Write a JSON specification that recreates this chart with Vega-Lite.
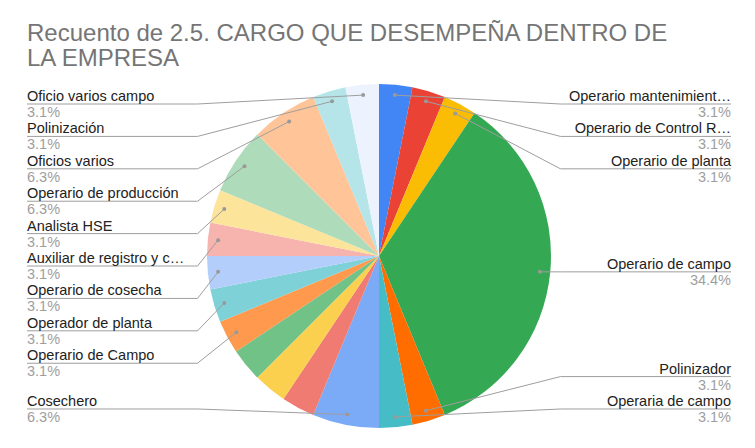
{
  "$schema": "https://vega.github.io/schema/vega-lite/v6.json",
  "width": 704,
  "height": 384,
  "autosize": {"type": "none"},
  "padding": {"left": 27, "top": 64, "right": 24, "bottom": 0},
  "background": "white",
  "config": {"view": {"stroke": null}, "font": "Liberation Sans"},
  "title": {
    "text": ["Recuento de 2.5. CARGO QUE DESEMPEÑA DENTRO DE", "LA EMPRESA"],
    "anchor": "start",
    "frame": "group",
    "fontSize": 24,
    "fontWeight": "normal",
    "color": "#757575",
    "lineHeight": 25,
    "baseline": "bottom",
    "offset": -31
  },
  "data": {
    "values": [
      {"orden": 1, "cargo": "Operario mantenimient…", "n": 1},
      {"orden": 2, "cargo": "Operario de Control R…", "n": 1},
      {"orden": 3, "cargo": "Operario de planta", "n": 1},
      {"orden": 4, "cargo": "Operario de campo", "n": 11},
      {"orden": 5, "cargo": "Polinizador", "n": 1},
      {"orden": 6, "cargo": "Operaria de campo", "n": 1},
      {"orden": 7, "cargo": "Cosechero", "n": 2},
      {"orden": 8, "cargo": "Otro cargo 1", "n": 1},
      {"orden": 9, "cargo": "Otro cargo 2", "n": 1},
      {"orden": 10, "cargo": "Otro cargo 3", "n": 1},
      {"orden": 11, "cargo": "Operario de Campo", "n": 1},
      {"orden": 12, "cargo": "Operador de planta", "n": 1},
      {"orden": 13, "cargo": "Operario de cosecha", "n": 1},
      {"orden": 14, "cargo": "Auxiliar de registro y c…", "n": 1},
      {"orden": 15, "cargo": "Analista HSE", "n": 1},
      {"orden": 16, "cargo": "Operario de producción", "n": 2},
      {"orden": 17, "cargo": "Oficios varios", "n": 2},
      {"orden": 18, "cargo": "Polinización", "n": 1},
      {"orden": 19, "cargo": "Oficio varios campo", "n": 1}
    ]
  },
  "transform": [
    {"joinaggregate": [{"op": "sum", "field": "n", "as": "total"}]},
    {"window": [{"op": "sum", "field": "n", "as": "acum"}], "sort": [{"field": "orden"}], "frame": [null, 0]},
    {"calculate": "2*PI*(datum.acum - datum.n/2)/datum.total", "as": "ang"},
    {"calculate": "datum.n/datum.total", "as": "pct"},
    {"calculate": "sin(datum.ang) < 0 ? -1 : 1", "as": "lado"},
    {"calculate": "0.94*sin(datum.ang)", "as": "px"},
    {"calculate": "0.94*cos(datum.ang)", "as": "py"}
  ],
  "layer": [
    {
      "mark": {"type": "arc", "outerRadius": 172, "stroke": null},
      "encoding": {
        "theta": {"field": "n", "type": "quantitative", "stack": true},
        "order": {"field": "orden", "type": "quantitative", "sort": "ascending"},
        "color": {
          "field": "cargo",
          "type": "nominal",
          "legend": null,
          "scale": {
            "domain": ["Operario mantenimient…", "Operario de Control R…", "Operario de planta", "Operario de campo", "Polinizador", "Operaria de campo", "Cosechero", "Otro cargo 1", "Otro cargo 2", "Otro cargo 3", "Operario de Campo", "Operador de planta", "Operario de cosecha", "Auxiliar de registro y c…", "Analista HSE", "Operario de producción", "Oficios varios", "Polinización", "Oficio varios campo"],
            "range": ["#4285F4", "#EA4335", "#FBBC04", "#34A853", "#FF6D01", "#46BDC6", "#7BAAF7", "#F07B72", "#FCD04F", "#71C287", "#FF994D", "#7ED1D7", "#B3CEFB", "#F7B4AE", "#FDE49B", "#AEDCBA", "#FFC599", "#B5E5E8", "#ECF3FE"]
          }
        }
      }
    },
    {
      "transform": [
        {"filter": "indexof(['Otro cargo 1','Otro cargo 2','Otro cargo 3'], datum.cargo) < 0"},
        {"calculate": "datum.lado * datum.orden", "as": "clave"},
        {"window": [{"op": "row_number", "as": "rk"}], "groupby": ["lado"], "sort": [{"field": "clave"}]},
        {"joinaggregate": [{"op": "count", "as": "cnt"}], "groupby": ["lado"]},
        {"calculate": "max(min(datum.py, 0.8837 - (datum.rk-1)*0.1884), -0.8895 + (datum.cnt - datum.rk)*0.1884)", "as": "ly"},
        {"calculate": "datum.lado*2.0465", "as": "xext"},
        {"calculate": "datum.lado*1.055", "as": "xint"}
      ],
      "layer": [
        {
          "mark": {"type": "rule", "color": "#9e9e9e", "strokeWidth": 1},
          "encoding": {
            "x": {"field": "xext", "type": "quantitative", "scale": {"domain": [-2.0465, 2.0465], "nice": false, "zero": false}, "axis": null},
            "x2": {"field": "xint"},
            "y": {"field": "ly", "type": "quantitative", "scale": {"domain": [-1.1163, 1.1163], "nice": false, "zero": false}, "axis": null}
          }
        },
        {
          "mark": {"type": "rule", "color": "#9e9e9e", "strokeWidth": 1},
          "encoding": {
            "x": {"field": "xint", "type": "quantitative", "axis": null},
            "x2": {"field": "px"},
            "y": {"field": "ly", "type": "quantitative", "axis": null},
            "y2": {"field": "py"}
          }
        },
        {
          "mark": {"type": "point", "filled": true, "color": "#999999", "size": 16, "opacity": 1},
          "encoding": {
            "x": {"field": "px", "type": "quantitative", "axis": null},
            "y": {"field": "py", "type": "quantitative", "axis": null}
          }
        },
        {
          "transform": [{"filter": "datum.lado < 0"}],
          "mark": {"type": "text", "align": "left", "baseline": "alphabetic", "dy": -3, "fontSize": 14.5, "color": "#222222"},
          "encoding": {
            "x": {"field": "xext", "type": "quantitative", "axis": null},
            "y": {"field": "ly", "type": "quantitative", "axis": null},
            "text": {"field": "cargo"}
          }
        },
        {
          "transform": [{"filter": "datum.lado < 0"}],
          "mark": {"type": "text", "align": "left", "baseline": "top", "dy": 2, "fontSize": 14.5, "color": "#9e9e9e"},
          "encoding": {
            "x": {"field": "xext", "type": "quantitative", "axis": null},
            "y": {"field": "ly", "type": "quantitative", "axis": null},
            "text": {"field": "pct", "type": "quantitative", "format": ".1%"}
          }
        },
        {
          "transform": [{"filter": "datum.lado > 0"}],
          "mark": {"type": "text", "align": "right", "baseline": "alphabetic", "dy": -3, "fontSize": 14.5, "color": "#222222"},
          "encoding": {
            "x": {"field": "xext", "type": "quantitative", "axis": null},
            "y": {"field": "ly", "type": "quantitative", "axis": null},
            "text": {"field": "cargo"}
          }
        },
        {
          "transform": [{"filter": "datum.lado > 0"}],
          "mark": {"type": "text", "align": "right", "baseline": "top", "dy": 2, "fontSize": 14.5, "color": "#9e9e9e"},
          "encoding": {
            "x": {"field": "xext", "type": "quantitative", "axis": null},
            "y": {"field": "ly", "type": "quantitative", "axis": null},
            "text": {"field": "pct", "type": "quantitative", "format": ".1%"}
          }
        }
      ]
    }
  ]
}
